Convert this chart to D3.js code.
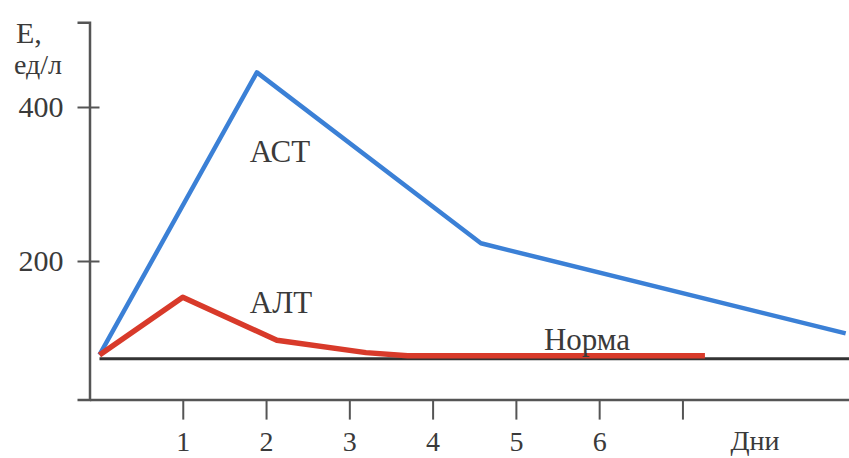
<!DOCTYPE html>
<html lang="ru">
<head>
<meta charset="UTF-8">
<title>АСТ и АЛТ</title>
<script src="https://cdn.jsdelivr.net/npm/d3@7"></script>
<style>
  body { margin: 0; background: #fff; }
  text { font-family: "Liberation Serif", "DejaVu Serif", serif; fill: #3a3a3a; }
</style>
</head>
<body>
<script>
// days and activity values
var astDays = [0, 1.89, 4.58, 8.96];
var astValues = [78, 445, 223, 106];
var altDays = [0, 1.0, 2.13, 3.2, 3.7, 7.27];
var altValues = [78, 153, 97, 81, 77, 77];
var normValue = 73;
var normDays = [0, 9];
var dayTicks = [1, 2, 3, 4, 5, 6, 7];
var dayLabels = ["1", "2", "3", "4", "5", "6", ""];
var yTicks = [200, 400];

var w = 849, h = 458;

var x = d3.scaleLinear().domain([-0.12, 9]).range([89.5, 849]);
var y = d3.scaleLinear().domain([20, 510]).range([399.6, 22.3]);

var svg = d3.select("body").append("svg")
  .attr("width", w)
  .attr("height", h);

// y axis
var yAxis = svg.append("g")
  .attr("transform", "translate(" + x(-0.12) + ",0)")
  .call(d3.axisLeft(y).tickValues(yTicks).tickSize(12).tickPadding(14));
yAxis.select(".domain").attr("stroke", "#555").attr("stroke-width", 2.5);
yAxis.selectAll(".tick line").attr("x1", 10).attr("stroke", "#555").attr("stroke-width", 2);
yAxis.selectAll(".tick text")
  .attr("font-size", 30).attr("fill", "#3a3a3a")
  .style("font-family", "Liberation Serif");

// x axis
var xAxis = svg.append("g")
  .attr("transform", "translate(0," + y(20) + ")")
  .call(d3.axisBottom(x).tickValues(dayTicks)
    .tickFormat(function(d, i) { return dayLabels[i]; })
    .tickSize(20).tickSizeOuter(0));
xAxis.select(".domain").attr("stroke", "#555").attr("stroke-width", 2.5);
xAxis.selectAll(".tick line").attr("stroke", "#555").attr("stroke-width", 2);
xAxis.selectAll(".tick text")
  .attr("y", 51).attr("dy", 0)
  .attr("font-size", 28).attr("fill", "#3a3a3a")
  .style("font-family", "Liberation Serif");

// axis titles
svg.append("text").attr("x", 16).attr("y", 43).attr("font-size", 30).text("Е,");
svg.append("text").attr("x", 14).attr("y", 74).attr("font-size", 28).text("ед/л");
svg.append("text").attr("x", 755).attr("y", 450).attr("font-size", 28)
  .attr("text-anchor", "middle").text("Дни");

var line = d3.line()
  .x(function(d) { return x(d[0]); })
  .y(function(d) { return y(d[1]); });

// norm line
svg.append("path")
  .datum(normDays.map(function(d) { return [d, normValue]; }))
  .attr("d", line)
  .attr("fill", "none")
  .attr("stroke", "#333")
  .attr("stroke-width", 3);

// AST
svg.append("path")
  .datum(astDays.map(function(d, i) { return [d, astValues[i]]; }))
  .attr("d", line)
  .attr("fill", "none")
  .attr("stroke", "#3b80d6")
  .attr("stroke-width", 4.5)
  .attr("stroke-linejoin", "round");

// ALT
svg.append("path")
  .datum(altDays.map(function(d, i) { return [d, altValues[i]]; }))
  .attr("d", line)
  .attr("fill", "none")
  .attr("stroke", "#d83a2a")
  .attr("stroke-width", 5.5)
  .attr("stroke-linejoin", "round");

// series labels
svg.append("text").attr("x", 280).attr("y", 162).attr("font-size", 31)
  .attr("text-anchor", "middle").text("АСТ");
svg.append("text").attr("x", 281).attr("y", 313).attr("font-size", 31)
  .attr("text-anchor", "middle").text("АЛТ");
svg.append("text").attr("x", 587).attr("y", 350).attr("font-size", 31)
  .attr("text-anchor", "middle").text("Норма");
</script>
</body>
</html>
